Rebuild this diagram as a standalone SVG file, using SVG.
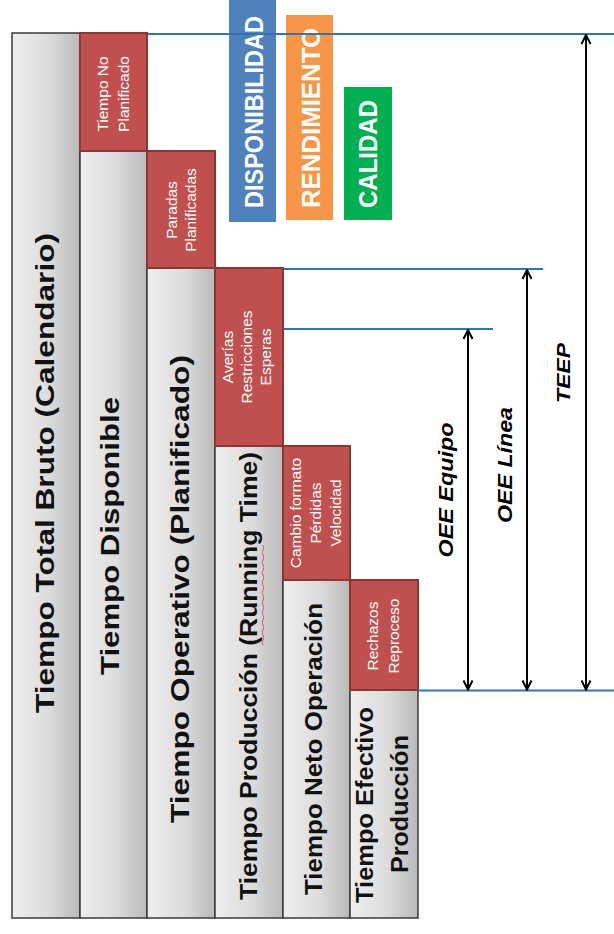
<svg xmlns="http://www.w3.org/2000/svg" width="614" height="934" viewBox="0 0 614 934">
<defs>
<linearGradient id="gray" x1="0" y1="0" x2="1" y2="0">
<stop offset="0" stop-color="#eeeeee"/>
<stop offset="0.55" stop-color="#dcdcdc"/>
<stop offset="1" stop-color="#b9b9b9"/>
</linearGradient>
<marker id="ah" viewBox="0 0 12 12" refX="11" refY="6" markerWidth="12" markerHeight="12" markerUnits="userSpaceOnUse" orient="auto-start-reverse">
<path d="M2,1.5 L11,6 L2,10.5" fill="none" stroke="#000" stroke-width="2"/>
</marker>
</defs>
<style>
.g{fill:url(#gray);stroke:#3a3a3a;stroke-width:1.5}
.r{fill:#c0504d;stroke:#8c3634;stroke-width:2}
.big{font-family:"Liberation Sans",Arial,sans-serif;font-weight:bold;fill:#111;text-anchor:middle}
.sm{font-family:"Liberation Sans",Arial,sans-serif;font-size:15.5px;fill:#fff;text-anchor:middle}
.badge{font-family:"Liberation Sans",Arial,sans-serif;font-weight:bold;font-size:26px;fill:#fff}
.lbl{font-family:"Liberation Sans",Arial,sans-serif;font-weight:bold;font-style:italic;fill:#000;text-anchor:middle}
.blue{stroke:#2e75b6;stroke-width:2;fill:none}
.arr{stroke:#000;stroke-width:2;fill:none;marker-start:url(#ah);marker-end:url(#ah)}
</style>
<rect width="614" height="934" fill="#fff"/>

<g id="col1">
<rect class="g" x="12" y="33" width="68" height="885"/>
<text class="big" font-size="26" transform="translate(54,473) rotate(-90)" textLength="480" lengthAdjust="spacingAndGlyphs">Tiempo Total Bruto (Calendario)</text>
</g>

<g id="col2">
<rect class="g" x="80" y="151" width="67" height="767"/>
<rect class="r" x="80" y="33" width="67" height="118"/>
<text class="big" font-size="26" transform="translate(119,536) rotate(-90)" textLength="278" lengthAdjust="spacingAndGlyphs">Tiempo Disponible</text>
<text class="sm" transform="translate(108,94) rotate(-90)">Tiempo No</text>
<text class="sm" transform="translate(129,94) rotate(-90)">Planificado</text>
</g>

<g id="col3">
<rect class="g" x="147" y="268" width="68" height="650"/>
<rect class="r" x="147" y="151" width="68" height="117"/>
<text class="big" font-size="26" transform="translate(189,589) rotate(-90)" textLength="468" lengthAdjust="spacingAndGlyphs">Tiempo Operativo (Planificado)</text>
<text class="sm" transform="translate(177,210) rotate(-90)">Paradas</text>
<text class="sm" transform="translate(196,210) rotate(-90)">Planificadas</text>
</g>

<g id="col4">
<rect class="g" x="215" y="446" width="68" height="472"/>
<rect class="r" x="215" y="268" width="68" height="178"/>
<text class="big" font-size="24" transform="translate(257,676) rotate(-90)" textLength="448" lengthAdjust="spacingAndGlyphs">Tiempo Producción (Running Time)</text>
<path d="M263,545 q1.5,2.5 0,5 q-1.5,2.5 0,5 q1.5,2.5 0,5 q-1.5,2.5 0,5 q1.5,2.5 0,5 q-1.5,2.5 0,5 q1.5,2.5 0,5 q-1.5,2.5 0,5 q1.5,2.5 0,5 q-1.5,2.5 0,5 q1.5,2.5 0,5 q-1.5,2.5 0,5 q1.5,2.5 0,5 q-1.5,2.5 0,5 q1.5,2.5 0,5 q-1.5,2.5 0,5 q1.5,2.5 0,5 q-1.5,2.5 0,5 q1.5,2.5 0,5 q-1.5,2.5 0,5" fill="none" stroke="#e0506a" stroke-width="1"/>
<text class="sm" transform="translate(233,357) rotate(-90)">Averías</text>
<text class="sm" transform="translate(252,357) rotate(-90)">Restricciones</text>
<text class="sm" transform="translate(271,357) rotate(-90)">Esperas</text>
</g>

<g id="col5">
<rect class="g" x="283" y="580" width="67" height="338"/>
<rect class="r" x="283" y="446" width="67" height="134"/>
<text class="big" font-size="24" transform="translate(322,749) rotate(-90)" textLength="292" lengthAdjust="spacingAndGlyphs">Tiempo Neto Operación</text>
<text class="sm" transform="translate(301,513) rotate(-90)">Cambio formato</text>
<text class="sm" transform="translate(321,513) rotate(-90)">Pérdidas</text>
<text class="sm" transform="translate(341,513) rotate(-90)">Velocidad</text>
</g>

<g id="col6">
<rect class="g" x="350" y="690" width="68" height="228"/>
<rect class="r" x="350" y="580" width="68" height="110"/>
<text class="big" font-size="23" transform="translate(373,805) rotate(-90)" textLength="196" lengthAdjust="spacingAndGlyphs">Tiempo Efectivo</text>
<text class="big" font-size="23" transform="translate(408,804) rotate(-90)" textLength="138" lengthAdjust="spacingAndGlyphs">Producción</text>
<text class="sm" transform="translate(378,636) rotate(-90)">Rechazos</text>
<text class="sm" transform="translate(399,636) rotate(-90)">Reproceso</text>
</g>

<g id="badge-disponibilidad">
<rect x="229" y="0" width="47" height="222" fill="#4f81bd"/>
<text class="badge" font-size="25" transform="translate(263,208) rotate(-90)" textLength="192" lengthAdjust="spacingAndGlyphs">DISPONIBILIDAD</text>
</g>
<g id="badge-rendimiento">
<rect x="286" y="15" width="47" height="205" fill="#f79646"/>
<text class="badge" transform="translate(320,208) rotate(-90)" textLength="180" lengthAdjust="spacingAndGlyphs">RENDIMIENTO</text>
</g>
<g id="badge-calidad">
<rect x="344" y="87" width="48" height="133" fill="#00b050"/>
<text class="badge" transform="translate(377,208) rotate(-90)" textLength="108" lengthAdjust="spacingAndGlyphs">CALIDAD</text>
</g>

<g id="connectors">
<line class="blue" x1="148" y1="34" x2="614" y2="34"/>
<line class="blue" x1="284" y1="269" x2="543" y2="269"/>
<line class="blue" x1="284" y1="329" x2="493" y2="329"/>
<line class="blue" x1="418" y1="690.5" x2="614" y2="690.5"/>
<line class="arr" x1="468" y1="330" x2="468" y2="689.5"/>
<line class="arr" x1="527" y1="270" x2="527" y2="689.5"/>
<line class="arr" x1="586" y1="35" x2="586" y2="689.5"/>
</g>

<g id="labels">
<text class="lbl" font-size="21" transform="translate(453,490) rotate(-90)" textLength="135" lengthAdjust="spacingAndGlyphs">OEE Equipo</text>
<text class="lbl" font-size="21" transform="translate(512,465) rotate(-90)" textLength="116" lengthAdjust="spacingAndGlyphs">OEE Línea</text>
<text class="lbl" font-size="19" transform="translate(570,373) rotate(-90)" textLength="60" lengthAdjust="spacingAndGlyphs">TEEP</text>
</g>
</svg>
